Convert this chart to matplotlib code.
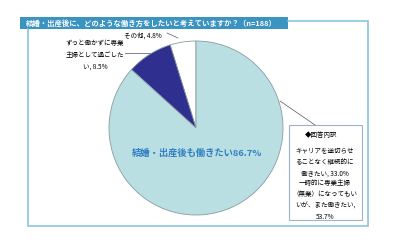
import matplotlib
matplotlib.use("Agg")
import matplotlib.pyplot as plt
from matplotlib.patches import Rectangle

plt.rcParams['font.family'] = ['Noto Sans CJK JP', 'DejaVu Sans']

title = "結婚・出産後に、どのような働き方をしたいと考えていますか？（n=188）"
categories = ["その他", "ずっと働かずに専業主婦として過ごしたい", "結婚・出産後も働きたい"]
values = [4.8, 8.5, 86.7]
colors = ["#ffffff", "#2e2f8f", "#b9dfe3"]
breakdown_labels = ["キャリアを途切らせ\nることなく継続的に\n働きたい, 33.0%",
                    "一時的に専業主婦\n（無業）になってもい\nいが、また働きたい,\n53.7%"]

W, H = 400, 242
fig = plt.figure(figsize=(4, 2.42), dpi=100)
ax = fig.add_axes([0, 0, 1, 1])

def Y(y):
    return H - y

# pie
ax.pie(values, colors=colors, startangle=90, counterclock=True,
       center=(196, Y(128)), radius=87, frame=True,
       wedgeprops=dict(edgecolor="#8a9a9e", linewidth=0.6))
ax.set_xlim(0, W)
ax.set_ylim(0, H)
ax.set_aspect('equal')
ax.axis('off')

# frame
fc = "#8cc3dc"
ax.plot([288, 368, 368, 28, 28], [Y(21), Y(21), Y(226), Y(226), Y(29)],
        color=fc, lw=1.2, solid_joinstyle='miter')
ax.add_patch(Rectangle((20, Y(29)), 268, 12, facecolor="#3b93c2", edgecolor="none"))
ax.text(26, Y(23), title, color="white", fontsize=5.3, fontweight="bold",
        va="center", ha="left")

# labels
ax.text(143, Y(36), f"{categories[0]}, {values[0]}%", fontsize=4.7, ha="center", va="center")
ax.plot([167, 178], [Y(33), Y(38)], color="#555555", lw=0.5)
ax.text(95, Y(55), "ずっと働かずに専業\n主婦として過ごした\nい, " + f"{values[1]}%",
        fontsize=4.7, ha="center", va="center", linespacing=1.65)
ax.plot([125, 150], [Y(53), Y(53)], color="#555555", lw=0.5)
ax.text(197, Y(153), f"{categories[2]}{values[2]}%", fontsize=6.7, fontweight="bold",
        color="#2f7fc1", ha="center", va="center")

# breakdown box
ax.plot([280, 315], [Y(101), Y(125)], color="#555555", lw=0.5)
ax.add_patch(Rectangle((289, Y(220)), 73, 95, facecolor="white", edgecolor="#9db6c0", lw=0.8))
ax.text(321, Y(135), "◆回答内訳", fontsize=4.7, ha="center", va="center")
ax.text(325, Y(162), breakdown_labels[0], fontsize=4.7, ha="center", va="center", linespacing=1.55)
ax.text(325, Y(200), breakdown_labels[1], fontsize=4.7, ha="center", va="center", linespacing=1.55)

fig.savefig("out.png", dpi=100)
